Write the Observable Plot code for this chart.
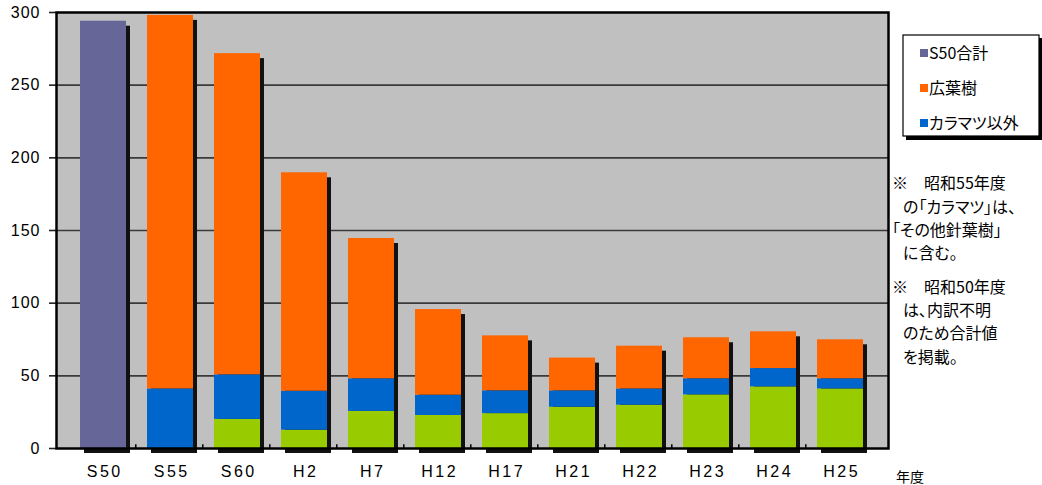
<!DOCTYPE html>
<html><head><meta charset="utf-8">
<script src="https://cdn.jsdelivr.net/npm/d3@7"></script>
<script src="https://cdn.jsdelivr.net/npm/@observablehq/plot@0.6"></script>
<style>
body{margin:0;background:#fff;}
#chart{position:relative;width:1042px;height:485px;}
.palt{font-feature-settings:"palt" 1;}
</style>
</head><body><div id="chart"></div>
<script>
const years = ["S50","S55","S60","H2","H7","H12","H17","H21","H22","H23","H24","H25"];
const s50Total      = [294,0,0,0,0,0,0,0,0,0,0,0];
const karamatsu     = [0,0,20,12.6,25.5,22.7,24,28.4,29.8,36.9,42.4,41];
const karamatsuIgai = [0,41,30.7,26.8,22.5,14,15.7,11.3,11.2,11.1,12.6,7];
const kouyouju      = [0,257,221,150.3,96.5,58.9,37.8,22.5,29.4,28.2,25.3,26.8];
const yTicks = [0,50,100,150,200,250,300];
const gridTicks = [50,100,150,200,250];
const seriesNames = ["カラマツ","カラマツ以外","広葉樹","S50合計"];
const seriesColors = ["#99cc00","#0066cc","#ff6600","#666699"];
const legendNames = ["S50合計","広葉樹","カラマツ以外"];
const notes = [
  ["※　昭和55年度", 0],
  ["の「カラマツ」は、", 11],
  ["「その他針葉樹」", 0],
  ["に含む。", 11],
  ["※　昭和50年度", 0],
  ["は、内訳不明", 11],
  ["のため合計値", 11],
  ["を掲載。", 11]
];
const xUnitLabel = "年度";

const FONT = '"Noto Sans CJK JP", sans-serif';
const NUMFONT = '"Liberation Sans", Arial, sans-serif';

const seriesArrays = [karamatsu, karamatsuIgai, kouyouju, s50Total];
const rows = [];
seriesArrays.forEach((arr, si) => {
  arr.forEach((v, i) => { if (v > 0) rows.push({year: years[i], series: seriesNames[si], value: v}); });
});
const totals = years.map((y, i) => ({year: y, total: seriesArrays.reduce((s, a) => s + a[i], 0)}));

const plot = Plot.plot({
  width: 1042,
  height: 485,
  marginLeft: 56,
  marginRight: 154,
  marginTop: 12,
  marginBottom: 37,
  style: {fontFamily: NUMFONT, fontSize: "16px", color: "#000", background: "#fff", overflow: "visible"},
  x: {domain: years, padding: 0.31, label: null},
  y: {domain: [0, 300], label: null},
  color: {domain: seriesNames, range: seriesColors},
  marks: [
    Plot.frame({fill: "#c0c0c0", stroke: "none"}),
    Plot.ruleY(gridTicks, {stroke: "#3a3a3a", strokeWidth: 1.6}),
    Plot.barY(totals, {x: "year", y: "total", fill: "#111", dx: 4, dy: 5}),
    Plot.barY(rows, {x: "year", y: "value", z: "series", fill: "series", order: seriesNames}),
    Plot.ruleX(years.slice(1), {x: d => d, y1: 0, y2: 2.5, dx: -34.7, stroke: "#000", strokeWidth: 1.5}),
    Plot.axisY({ticks: yTicks, tickSize: 7, tickPadding: 9, fontSize: 16, stroke: "#222", strokeWidth: 1.6}),
    Plot.axisX({tickSize: 0, tickPadding: 17, fontSize: 16, dx: 1.2}),
    Plot.frame({stroke: "#000", strokeWidth: 2.5})
  ]
});
document.getElementById("chart").appendChild(plot);

const svg = d3.select(plot);
svg.selectAll("g[aria-label='x-axis tick label'] text").attr("letter-spacing", "2.5px");
svg.selectAll("g[aria-label='y-axis tick label'] text").attr("letter-spacing", "1px");

// x-unit label
svg.append("text").attr("x", 896).attr("y", 482).attr("font-size", 14).attr("text-anchor", "start")
  .attr("font-family", FONT).attr("fill", "#000").text(xUnitLabel);

// legend
const lg = svg.append("g").attr("font-family", FONT).attr("text-anchor", "start").attr("class", "palt");
lg.append("rect").attr("x", 906).attr("y", 38).attr("width", 137).attr("height", 102).attr("fill", "#000");
lg.append("rect").attr("x", 903).attr("y", 35).attr("width", 136).attr("height", 101)
  .attr("fill", "#fff").attr("stroke", "#000").attr("stroke-width", 1.2);
legendNames.forEach((name, i) => {
  const yy = 53 + i * 35;
  lg.append("rect").attr("x", 920).attr("y", yy - 4).attr("width", 8).attr("height", 8)
    .attr("fill", seriesColors[seriesNames.indexOf(name)]);
  lg.append("text").attr("x", 929).attr("y", yy).attr("dy", "0.36em")
    .attr("font-size", 16).attr("fill", "#000").text(name);
});

// notes
const ng = svg.append("g").attr("font-family", FONT).attr("font-size", 16).attr("fill", "#000")
  .attr("text-anchor", "start").attr("class", "palt");
const noteY = [183, 207, 230, 253, 287, 310, 333, 357];
notes.forEach(([t, indent], i) => {
  ng.append("text").attr("x", 892 + indent).attr("y", noteY[i]).attr("dy", "0.36em").text(t);
});
</script>
</body></html>
